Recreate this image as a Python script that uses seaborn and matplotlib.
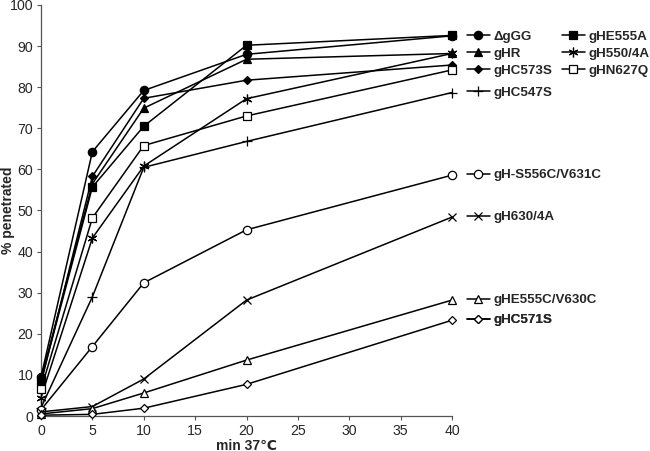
import matplotlib
matplotlib.use("Agg")
import matplotlib.pyplot as plt
import seaborn as sns
import pandas as pd
from matplotlib.transforms import blended_transform_factory

sns.set_style("ticks")
plt.rcParams['font.family'] = ['Liberation Sans', 'DejaVu Sans']

time_min = [0, 5, 10, 20, 40]
dgGG = [9.5, 64.3, 79.2, 88.0, 92.5]
gHE555A = [8.5, 55.7, 70.5, 90.2, 92.6]
gHR = [9.0, 56.5, 74.9, 86.8, 88.2]
gHC573S = [8.0, 58.3, 77.3, 81.7, 85.4]
gH550_4A = [4.5, 43.3, 60.8, 77.2, 88.2]
gHN627Q = [6.5, 48.2, 65.8, 73.0, 84.2]
gHC547S = [2.0, 29.0, 60.5, 66.8, 78.7]
gH_S556C_V631C = [1.5, 16.9, 32.4, 45.3, 58.6]
gH630_4A = [1.0, 2.3, 9.0, 28.2, 48.4]
gHE555C_V630C = [0.5, 1.8, 5.6, 13.6, 28.2]
gHC571S = [0.2, 0.4, 1.9, 7.7, 23.3]

labels = ["ΔgGG", "gHE555A", "gHR", "gH550/4A", "gHC573S", "gHN627Q",
          "gHC547S", "gH-S556C/V631C", "gH630/4A", "gHE555C/V630C", "gHC571S"]
values = [dgGG, gHE555A, gHR, gH550_4A, gHC573S, gHN627Q,
          gHC547S, gH_S556C_V631C, gH630_4A, gHE555C_V630C, gHC571S]
# marker, filled, size
styles = [("o", True, 6.0), ("s", True, 5.8), ("^", True, 5.5), ((6, 2, 0), False, 7.0),
          ("D", True, 4.2), ("s", False, 5.8), ("+", False, 7.0), ("o", False, 6.0),
          ("x", False, 6.0), ("^", False, 5.5), ("D", False, 4.2)]

fig = plt.figure(figsize=(6.5, 4.51), dpi=100)
ax = fig.add_axes([41/650, 35/451, 411/650, 411/451])

handles = {}
for lab, vals, (mk, filled, ms) in zip(labels, values, styles):
    df = pd.DataFrame({"t": time_min, "v": vals})
    sns.lineplot(data=df, x="t", y="v", ax=ax, color="black", linewidth=1.1,
                 marker=mk, markersize=ms, markeredgecolor="black",
                 markerfacecolor="black" if filled else "white",
                 markeredgewidth=0.9, clip_on=False, zorder=3)
    handles[lab] = ax.get_lines()[-1]

ax.set_xlim(0, 40)
ax.set_ylim(0, 100)
ax.set_xticks(range(0, 41, 5))
ax.set_yticks(range(0, 101, 10))
ax.tick_params(axis="both", labelsize=10.2, length=3, width=0.8, color="#555555", pad=2.5)
for s in ["left", "bottom"]:
    ax.spines[s].set_color("#555555")
    ax.spines[s].set_linewidth(0.9)
sns.despine(ax=ax)
ax.set_xlabel("min 37℃", fontsize=10, fontweight="bold", va="top")
ax.xaxis.set_label_coords(0.5, (416 - 438.5) / 411)
ax.set_ylabel("% penetrated", fontsize=10, fontweight="bold")
ax.yaxis.set_label_coords((15 - 41) / 411, 0.5)

tr = blended_transform_factory(ax.transAxes, ax.transData)
x_leg = (467 - 41) / 411
fs = 9.6

# column-major order so rows read: ΔgGG/gHE555A, gHR/gH550/4A, gHC573S/gHN627Q
top_order = ["ΔgGG", "gHR", "gHC573S", "gHE555A", "gH550/4A", "gHN627Q"]
leg = ax.legend([handles[l] for l in top_order], top_order, ncol=2,
                loc="center left", bbox_to_anchor=(x_leg, 88.2), bbox_transform=tr,
                frameon=False, borderpad=0, borderaxespad=0, handlelength=1.7,
                handletextpad=0.3, labelspacing=0.35, columnspacing=0.7,
                prop={"weight": "bold", "size": fs}, numpoints=1)
ax.add_artist(leg)

for lab, vals in zip(labels[6:], values[6:]):
    l = ax.legend([handles[lab]], [lab], loc="center left",
                  bbox_to_anchor=(x_leg, vals[-1]), bbox_transform=tr,
                  frameon=False, borderpad=0, borderaxespad=0, handlelength=1.7,
                  handletextpad=0.3, prop={"weight": "bold", "size": fs}, numpoints=1)
    ax.add_artist(l)

fig.savefig("out.png", dpi=100)
